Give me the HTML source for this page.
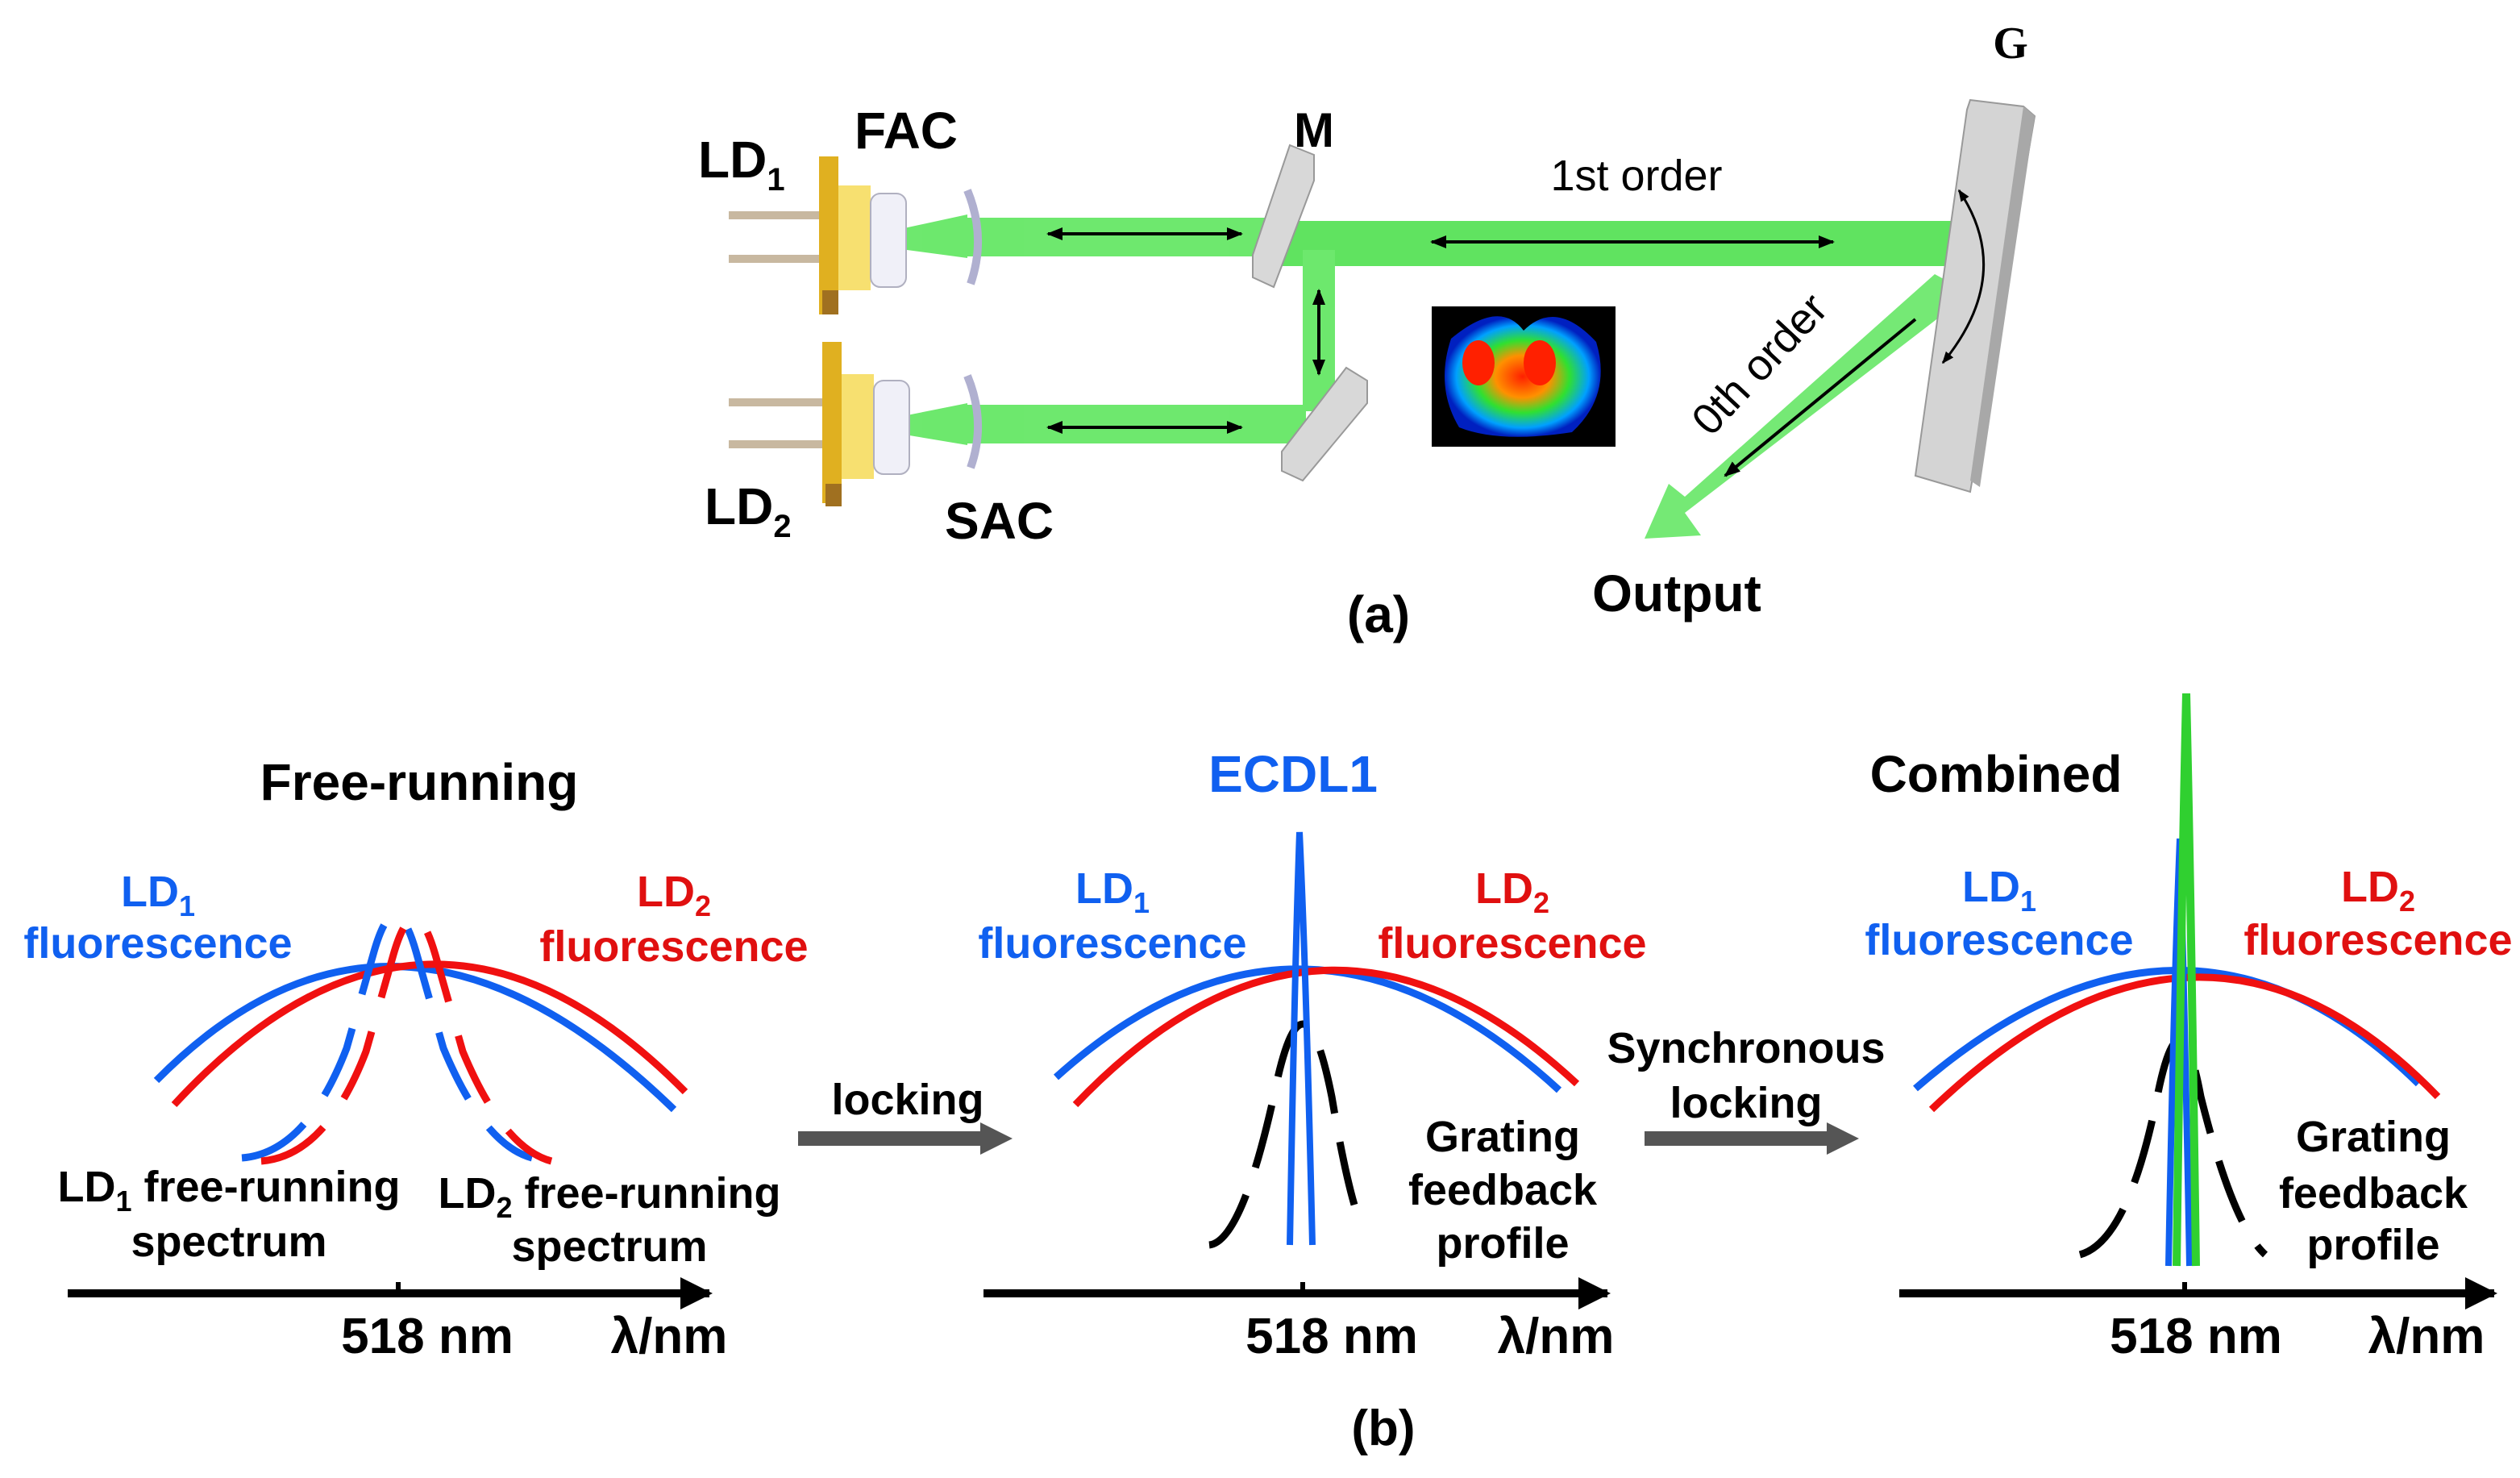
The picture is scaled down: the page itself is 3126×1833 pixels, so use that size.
<!DOCTYPE html>
<html><head><meta charset="utf-8"><style>html,body{margin:0;padding:0;background:#fff}svg{display:block}
text{font-family:"Liberation Sans",Arial,sans-serif;font-weight:bold}</style></head><body>
<svg width="3126" height="1833" viewBox="0 0 1563 916.5" xmlns="http://www.w3.org/2000/svg">
<defs>
<marker id="ah" viewBox="0 0 10 10" refX="9" refY="5" markerWidth="5" markerHeight="5" orient="auto-start-reverse"><path d="M0,1 L10,5 L0,9z" fill="#000"/></marker>
<marker id="ak" viewBox="0 0 10 10" refX="9" refY="5" markerWidth="4" markerHeight="4" orient="auto"><path d="M0,0 L10,5 L0,10z" fill="#000"/></marker>
<radialGradient id="bl" cx="50%" cy="50%" r="50%"><stop offset="0" stop-color="#ff2000"/><stop offset="0.35" stop-color="#ff9000"/><stop offset="0.6" stop-color="#30e030"/><stop offset="0.85" stop-color="#00a0ff"/><stop offset="1" stop-color="#0020c0"/></radialGradient>
</defs>
<g fill="#5ee65e" opacity="0.9">
<polygon points="540,146 600,133 600,160 540,152"/>
<rect x="600" y="135" width="190" height="24"/>
<rect x="790" y="137" width="425" height="28" fill="#4fe04f"/>
<rect x="808" y="155" width="20" height="100"/>
<polygon points="540,262 600,250 600,276 540,266"/>
<rect x="600" y="251" width="210" height="24"/>
<polygon points="1200,170 1222,182 1045,318 1055,332 1020,334 1035,300 1045,308" opacity="0.95"/>
</g>
<g>
<rect x="452" y="131" width="60" height="5" fill="#c8b8a0"/><rect x="452" y="158" width="60" height="5" fill="#c8b8a0"/>
<rect x="508" y="97" width="12" height="98" fill="#e0b020"/><rect x="510" y="180" width="10" height="15" fill="#a07020"/>
<rect x="520" y="115" width="20" height="65" fill="#f7e070"/>
<rect x="540" y="120" width="22" height="58" rx="6" fill="#f0f0f8" stroke="#b0b0c0"/>
<path d="M600,118 Q612,147 602,176" stroke="#b0b0d0" stroke-width="5" fill="none"/>
<rect x="452" y="247" width="60" height="5" fill="#c8b8a0"/><rect x="452" y="273" width="60" height="5" fill="#c8b8a0"/>
<rect x="510" y="212" width="12" height="100" fill="#e0b020"/><rect x="512" y="300" width="10" height="14" fill="#a07020"/>
<rect x="522" y="232" width="20" height="65" fill="#f7e070"/>
<rect x="542" y="236" width="22" height="58" rx="6" fill="#f0f0f8" stroke="#b0b0c0"/>
<path d="M600,233 Q612,262 602,290" stroke="#b0b0d0" stroke-width="5" fill="none"/>
</g>
<polygon points="800,90 815,96 815,112 790,178 777,172 777,158" fill="#d8d8d8" stroke="#999"/>
<polygon points="835,228 848,236 848,250 808,298 795,292 795,280" fill="#d8d8d8" stroke="#999"/>
<polygon points="1222,62 1255,66 1262,72 1222,305 1188,295 1220,68" fill="#d4d4d4" stroke="#999"/>
<polygon points="1255,66 1262,72 1228,302 1222,298" fill="#a8a8a8"/>
<g stroke="#000" stroke-width="2" marker-start="url(#ah)" marker-end="url(#ah)">
<line x1="650" y1="145" x2="770" y2="145"/>
<line x1="888" y1="150" x2="1137" y2="150"/>
<line x1="818" y1="180" x2="818" y2="232"/>
<line x1="650" y1="265" x2="770" y2="265"/>
<line x1="1188" y1="198" x2="1070" y2="295" marker-start="none"/>
</g>
<path d="M1215,118 Q1250,170 1205,225" stroke="#000" stroke-width="1.5" fill="none" marker-start="url(#ah)" marker-end="url(#ah)"/>
<rect x="888" y="190" width="114" height="87" fill="#000"/>
<path d="M900,210 Q930,185 945,205 Q965,185 990,212 Q1000,245 975,268 Q930,275 905,265 Q890,240 900,210z" fill="url(#bl)"/>
<ellipse cx="917" cy="225" rx="10" ry="14" fill="#ff2000"/><ellipse cx="955" cy="225" rx="10" ry="14" fill="#ff2000"/>
<text x="1247" y="36" font-size="28" text-anchor="middle" style="font-family:'Liberation Serif',serif">G</text>
<text x="433" y="110" font-size="32">LD<tspan font-size="20" dy="8">1</tspan></text>
<text x="530" y="92" font-size="32">FAC</text>
<text x="815" y="91" font-size="30" text-anchor="middle">M</text>
<text x="437" y="325" font-size="32">LD<tspan font-size="20" dy="8">2</tspan></text>
<text x="586" y="334" font-size="32">SAC</text>
<text x="1015" y="118" font-size="27" text-anchor="middle" style="font-weight:normal">1st order</text>
<text x="0" y="0" font-size="27" text-anchor="middle" style="font-weight:normal" transform="translate(1098,232) rotate(-47)">0th order</text>
<text x="1040" y="379" font-size="32" text-anchor="middle">Output</text>
<text x="855" y="392" font-size="32" text-anchor="middle">(a)</text>

<g stroke-width="4.5" fill="none">
<path d="M97,670 Q245,520 418,688" stroke="#1060f0"/>
<path d="M108,685 Q265,515 425,677" stroke="#f01010"/>
<path d="M150,718 Q190,715 215,650 L232,590 Q245,545 258,590 L275,650 Q300,710 330,718" stroke="#1060f0" stroke-dasharray="45,22"/>
<path d="M162,720 Q202,717 227,652 L244,592 Q257,547 270,592 L287,652 Q312,712 342,720" stroke="#f01010" stroke-dasharray="45,22"/>
<path d="M655,668 Q808,530 967,676" stroke="#1060f0"/>
<path d="M667,685 Q820,525 978,672" stroke="#f01010"/>
<path d="M750,772 Q770,770 790,680 Q808,590 826,680 Q836,740 845,762" stroke="#000" stroke-dasharray="40,18"/>
<path d="M800,772 Q803,600 806,516 Q810,600 814,772" stroke="#1060f0" stroke-width="4"/>
<path d="M1188,675 Q1355,530 1500,672" stroke="#1060f0"/>
<path d="M1198,688 Q1365,528 1512,680" stroke="#f01010"/>
<path d="M1290,778 Q1320,770 1338,680 Q1352,610 1365,680 Q1385,760 1405,778" stroke="#000" stroke-dasharray="40,18"/>
<path d="M1345,785 Q1348,620 1352,520 Q1355,620 1358,785" stroke="#1060f0" stroke-width="4"/>
<path d="M1350,785 Q1353,560 1356,430 Q1359,560 1362,785" stroke="#30d030" stroke-width="5"/>
</g>
<g stroke="#000" stroke-width="5" marker-end="url(#ak)">
<line x1="42" y1="802" x2="440" y2="802"/>
<line x1="610" y1="802" x2="997" y2="802"/>
<line x1="1178" y1="802" x2="1547" y2="802"/>
</g>
<g stroke="#000" stroke-width="3"><line x1="247" y1="795" x2="247" y2="802"/><line x1="808" y1="795" x2="808" y2="802"/><line x1="1355" y1="795" x2="1355" y2="802"/></g>
<g stroke="#555" stroke-width="9"><line x1="495" y1="706" x2="610" y2="706"/><line x1="1020" y1="706" x2="1135" y2="706"/></g>
<polygon points="608,696 628,706 608,716" fill="#555"/><polygon points="1133,696 1153,706 1133,716" fill="#555"/>
<g font-size="27" text-anchor="middle">
<text x="260" y="496" font-size="32">Free-running</text>
<text x="802" y="491" font-size="32" fill="#1060f0">ECDL1</text>
<text x="1238" y="491" font-size="32">Combined</text>
<g fill="#1060f0"><text x="98" y="562">LD<tspan font-size="18" dy="6">1</tspan></text><text x="98" y="594">fluorescence</text>
<text x="690" y="560">LD<tspan font-size="18" dy="6">1</tspan></text><text x="690" y="594">fluorescence</text>
<text x="1240" y="559">LD<tspan font-size="18" dy="6">1</tspan></text><text x="1240" y="592">fluorescence</text></g>
<g fill="#e01010"><text x="418" y="562">LD<tspan font-size="18" dy="6">2</tspan></text><text x="418" y="596">fluorescence</text>
<text x="938" y="560">LD<tspan font-size="18" dy="6">2</tspan></text><text x="938" y="594">fluorescence</text>
<text x="1475" y="559">LD<tspan font-size="18" dy="6">2</tspan></text><text x="1475" y="592">fluorescence</text></g>
<text x="142" y="745">LD<tspan font-size="18" dy="6">1</tspan><tspan dy="-6"> free-running</tspan></text><text x="142" y="779">spectrum</text>
<text x="378" y="749">LD<tspan font-size="18" dy="6">2</tspan><tspan dy="-6"> free-running</tspan></text><text x="378" y="782">spectrum</text>
<text x="563" y="691">locking</text>
<text x="1083" y="659">Synchronous</text><text x="1083" y="693">locking</text>
<text x="932" y="714">Grating</text><text x="932" y="747">feedback</text><text x="932" y="780">profile</text>
<text x="1472" y="714">Grating</text><text x="1472" y="749">feedback</text><text x="1472" y="781">profile</text>
<g font-size="31"><text x="265" y="839">518 nm</text><text x="415" y="839">λ/nm</text>
<text x="826" y="839">518 nm</text><text x="965" y="839">λ/nm</text>
<text x="1362" y="839">518 nm</text><text x="1505" y="839">λ/nm</text>
<text x="858" y="896">(b)</text></g>
</g>
</svg>
</body></html>
